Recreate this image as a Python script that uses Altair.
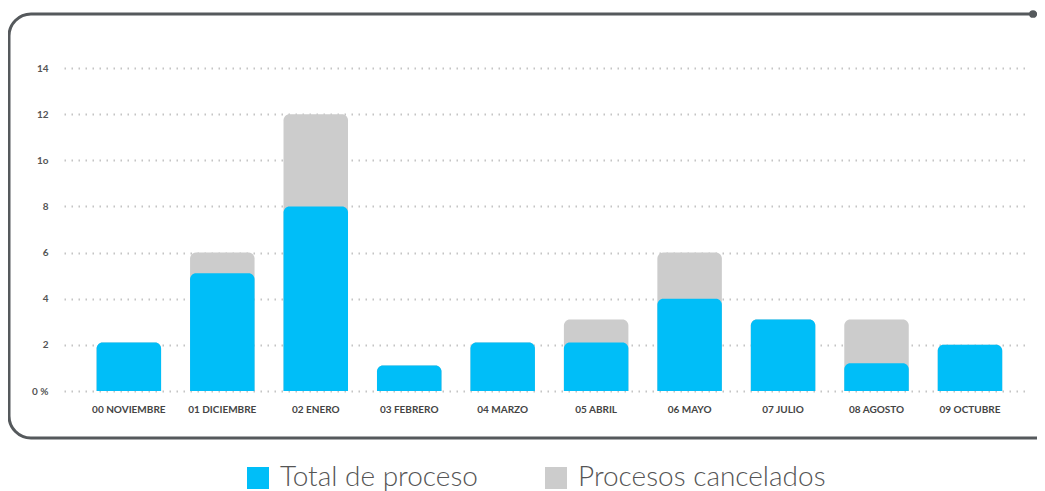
import altair as alt
import pandas as pd

meses = ["00 NOVIEMBRE", "01 DICIEMBRE", "02 ENERO", "03 FEBRERO", "04 MARZO",
         "05 ABRIL", "06 MAYO", "07 JULIO", "08 AGOSTO", "09 OCTUBRE"]
total_proceso = [2.1, 5.1, 8, 1.1, 2.1, 2.1, 4, 3.1, 1.2, 2]
procesos_cancelados = [0, 0.9, 4, 0, 0, 1, 2, 0, 1.9, 0]
y_ticks = [0, 2, 4, 6, 8, 10, 12, 14]
y_tick_labels = ["0 %", "2", "4", "6", "8", "1o", "12", "14"]
series = ["Total de proceso", "Procesos cancelados"]
colors = ["#00BEF8", "#CCCCCC"]

rows = []
for m, t, c in zip(meses, total_proceso, procesos_cancelados):
    rows.append({"mes": m, "serie": series[1], "valor": t + c})
for m, t in zip(meses, total_proceso):
    rows.append({"mes": m, "serie": series[0], "valor": t})
df = pd.DataFrame(rows)

label_expr = "''"
for v, lab in zip(y_ticks, y_tick_labels):
    label_expr = f"datum.value == {v} ? '{lab}' : ({label_expr})"

FONT = "Lato"
frame_color = "#55595C"

bars = alt.Chart(df).mark_bar(cornerRadiusTopLeft=6, cornerRadiusTopRight=6).encode(
    x=alt.X("mes:N", sort=meses, title=None,
            scale=alt.Scale(paddingInner=0.31, paddingOuter=0.323, align=0.54),
            axis=alt.Axis(labelAngle=0, labelFontSize=10, labelFontWeight="bold",
                          labelColor="#444444", labelPadding=13, ticks=False,
                          domain=False, labelFont=FONT)),
    y=alt.Y("valor:Q", stack=None, title=None,
            scale=alt.Scale(domain=[0, 14], nice=False),
            axis=alt.Axis(values=y_ticks, labelExpr=label_expr, labelFontSize=10,
                          labelFontWeight="bold", labelColor="#555555", labelPadding=16,
                          ticks=False, domain=False, grid=True, gridDash=[1.5, 5.5],
                          gridWidth=2, gridColor="#C4C4C4", labelFont=FONT)),
    color=alt.Color("serie:N", title=None,
                    scale=alt.Scale(domain=series, range=colors),
                    legend=alt.Legend(orient="none", legendX=180, legendY=396,
                                      direction="horizontal", symbolType="square",
                                      symbolSize=484, symbolStrokeWidth=0,
                                      labelFontSize=28, labelFont=FONT,
                                      labelFontWeight=300, labelColor="#555555",
                                      labelOffset=8, columnPadding=64, padding=0,
                                      labelLimit=400)),
)

one = pd.DataFrame({"a": [0]})
frame = alt.Chart(one).mark_rect(cornerRadius=22, fillOpacity=0, stroke=frame_color,
                                 strokeWidth=3).encode(
    x=alt.value(-55), x2=alt.value(1100), y=alt.value(-54), y2=alt.value(370))
dot = alt.Chart(one).mark_circle(size=60, color=frame_color, opacity=1).encode(
    x=alt.value(969), y=alt.value(-54))

chart = alt.layer(frame, bars, dot).properties(
    width=966, height=323,
    padding={"left": 56, "top": 60, "right": 7, "bottom": 102},
    autosize=alt.AutoSizeParams(type="none"),
).configure(background="white", view=alt.ViewConfig(stroke=None))

chart.save("out.html", embed_options={"renderer": "svg", "actions": False})
